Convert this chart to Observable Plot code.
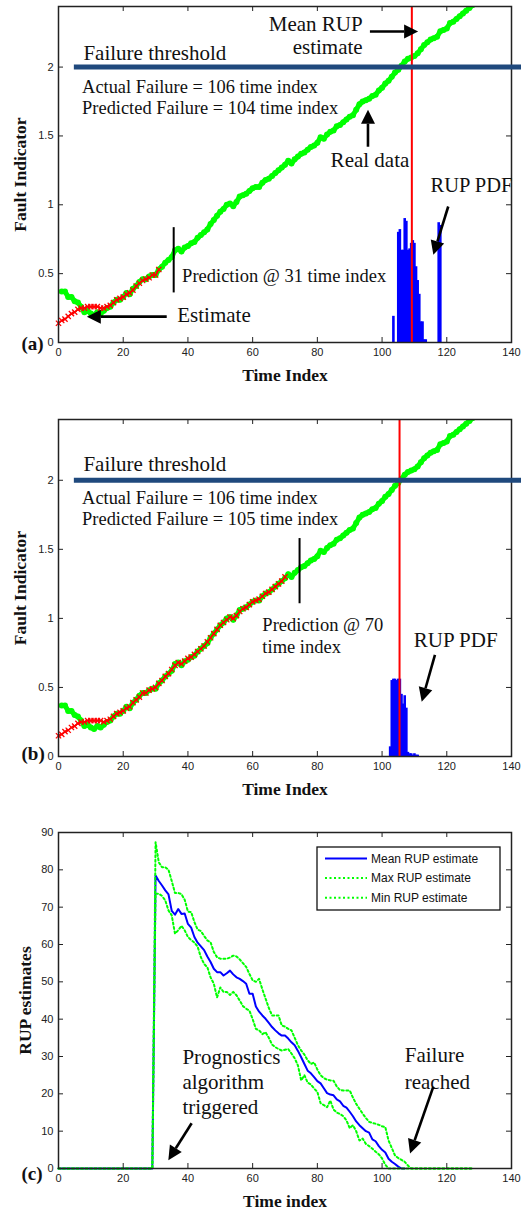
<!DOCTYPE html>
<html><head><meta charset="utf-8">
<script src="https://cdn.jsdelivr.net/npm/d3@7"></script>
<script src="https://cdn.jsdelivr.net/npm/@observablehq/plot@0.6"></script>
<style>
body{margin:0;background:#fff;}
#chart{width:521px;}
#chart svg{display:block;}
</style></head><body><div id="chart"></div>
<script>
const sans = "'Liberation Sans', Arial, Helvetica, sans-serif";
const serif = "'Liberation Serif', 'Times New Roman', Times, serif";

// ---------- data ----------
const xTicks = [0, 20, 40, 60, 80, 100, 120, 140];
const faultTicks = [0, 0.5, 1, 1.5, 2];
const rupTicks = [0, 10, 20, 30, 40, 50, 60, 70, 80, 90];

// real fault indicator data, time index 1..128
const realData = [0.37,0.37,0.33,0.33,0.30,0.29,0.26,0.22,0.23,0.21,
 0.20,0.22,0.21,0.23,0.25,0.26,0.29,0.31,0.31,0.33,
 0.36,0.35,0.39,0.41,0.44,0.46,0.46,0.48,0.49,0.49,
 0.53,0.55,0.58,0.60,0.62,0.67,0.68,0.66,0.69,0.70,
 0.72,0.73,0.76,0.78,0.80,0.82,0.86,0.89,0.92,0.95,
 0.97,1.00,1.01,0.99,1.02,1.06,1.07,1.08,1.10,1.12,
 1.13,1.13,1.16,1.18,1.19,1.21,1.23,1.25,1.27,1.29,
 1.32,1.30,1.33,1.35,1.37,1.38,1.40,1.42,1.43,1.45,
 1.49,1.48,1.51,1.53,1.54,1.57,1.58,1.60,1.62,1.64,
 1.65,1.69,1.73,1.75,1.76,1.77,1.79,1.80,1.83,1.85,
 1.88,1.90,1.93,1.96,1.98,2.01,2.04,2.06,2.07,2.08,
 2.10,2.13,2.16,2.18,2.20,2.21,2.22,2.26,2.27,2.28,
 2.32,2.33,2.35,2.37,2.39,2.41,2.43,2.45];

// estimate, time index 0..31 (panel a)
const estimateA = [0.14,0.16,0.17,0.19,0.21,0.22,0.24,0.25,0.25,0.26,0.26,0.26,0.26,0.25,0.25,0.26,
 0.27,0.29,0.31,0.32,0.33,0.35,0.36,0.38,0.41,0.43,0.45,0.46,0.47,0.49,0.49,0.53];

// estimate, time index 0..70 (panel b)
const estimateB = [0.15,0.16,0.18,0.19,0.21,0.22,0.24,0.25,0.25,0.26,0.26,0.26,0.26,0.26,0.25,0.26,
 0.27,0.29,0.31,0.32,0.33,0.35,0.36,0.39,0.41,0.43,
 0.46,0.46,0.48,0.49,0.50,0.53,0.55,0.58,0.60,0.63,
 0.66,0.68,0.67,0.69,0.71,0.72,0.74,0.76,0.78,0.80,
 0.83,0.86,0.89,0.92,0.95,0.97,0.99,1.01,1.00,1.02,
 1.05,1.07,1.08,1.10,1.12,1.13,1.14,1.16,1.18,1.19,
 1.21,1.23,1.25,1.27,1.30];

// RUP PDFs
const pdfXA = [103.5,105,105.5,106,106.5,107,107.5,108,108.5,109,109.5,110,110.5,111,111.5,112,112.5,113,113.5,117.5,118];
const pdfYA = [0.19,0.80,0.82,0.67,0.67,0.90,0.88,0.67,0.68,0.72,0.74,0.72,0.55,0.45,0.35,0.15,0.15,0.02,0.02,0.87,0.85];
const pdfXB = [102.5,103,103.5,104,104.5,105,105.5,106,106.5,107,107.5,108,108.5,109,109.5,110,110.5,111];
const pdfYB = [0.07,0.55,0.56,0.56,0.55,0.56,0.56,0.45,0.38,0.44,0.35,0.03,0.02,0.02,0.01,0.02,0.01,0.01];

const meanRupA = 109.2;
const meanRupB = 105.4;
const threshold = 2;

// RUP estimates, time index 0..
const rupMean = [0,0,0,0,0,0,0,0,0,0,0,0,0,0,0,0,0,0,0,0,0,0,0,0,0,0,0,0,0,0,
 78.5,77.0,75.8,74.5,73.4,69.0,68.0,69.5,68.2,68.3,
 65.5,64.5,62.0,60.5,59.5,58.5,56.8,55.3,53.5,52.6,
 52.6,51.7,52.3,53.0,52.0,51.2,50.8,50.2,49.5,46.8,
 46.8,43.4,42.0,41.0,40.1,39.0,37.9,37.0,36.2,35.6,
 35.6,34.8,33.8,33.0,31.5,29.8,28.0,26.2,25.5,24.5,
 23.4,22.8,21.5,20.2,19.8,19.6,18.5,18.0,16.8,16.3,
 15.2,14.0,12.6,11.6,10.8,10.0,9.6,7.8,7.3,6.0,
 5.0,4.3,2.6,1.8,1.2,0.5,0,0];
const rupMax = [0,0,0,0,0,0,0,0,0,0,0,0,0,0,0,0,0,0,0,0,0,0,0,0,0,0,0,0,0,0,
 87.4,82.0,80.7,80.7,80.0,77.0,73.8,73.8,73.5,72.0,
 68.8,68.7,66.0,64.0,63.6,62.3,61.1,60.6,58.0,56.6,
 56.2,56.2,56.2,56.5,57.0,56.8,56.0,55.0,54.0,52.1,
 50.4,50.0,50.8,48.0,45.5,43.0,41.0,41.0,41.0,38.3,
 38.0,37.4,37.0,35.0,33.0,31.6,30.5,29.0,28.0,28.4,
 26.5,25.0,24.2,23.8,23.6,23.5,22.0,21.0,20.9,20.9,
 20.9,19.0,17.3,16.0,14.7,13.5,12.5,12.2,12.0,11.7,
 11.3,11.1,7.5,5.5,3.5,2.8,2.3,1.8,0.8,
 0,0,0,0,0,0,0,0,0,0,0,0,0,0,0,0,0,0,0,0];
const rupMin = [0,0,0,0,0,0,0,0,0,0,0,0,0,0,0,0,0,0,0,0,0,0,0,0,0,0,0,0,0,0,
 73.6,73.6,73.0,71.8,69.1,67.8,62.9,63.8,65.0,63.8,
 62.0,61.2,60.5,59.4,56.6,54.8,53.9,51.2,49.5,45.8,
 48.5,47.3,47.3,46.5,47.3,46.4,45.0,43.5,42.8,42.3,
 40.0,37.4,37.0,36.0,36.5,35.0,33.2,32.5,32.0,31.6,
 31.8,32.0,30.8,29.5,27.6,23.6,25.0,23.0,22.5,21.4,
 20.5,17.5,17.0,16.4,18.2,15.8,15.0,14.6,14.0,12.9,
 10.8,11.6,10.0,7.5,8.0,6.6,6.0,5.3,4.5,3.8,
 2.7,1.0,
 0,0,0,0,0,0,0,0,0,0,0,0,0,0,0,0,0,0,0,0,0,0,0,0,0,0,0];

const legendLabels = ["Mean RUP estimate", "Max RUP estimate", "Min RUP estimate"];

// ---------- tables ----------
const realRows = realData.map((v, i) => ({t: i + 1, v}));
const estARows = estimateA.map((v, i) => ({t: i, v}));
const estBRows = estimateB.map((v, i) => ({t: i, v}));
const pdfARows = pdfXA.map((x, i) => ({x, y: pdfYA[i]}));
const pdfBRows = pdfXB.map((x, i) => ({x, y: pdfYB[i]}));
const meanRows = rupMean.map((v, i) => ({t: i, v}));
const maxRows = rupMax.map((v, i) => ({t: i, v}));
const minRows = rupMin.map((v, i) => ({t: i, v}));

// ---------- helpers ----------
const W = 521, ML = 58, MR = 10;
const plotW = W - ML - MR;

function boxAxes(yTicks, plotH) {
  return [
    Plot.ruleX(xTicks, {x: d => d, insetTop: plotH - 5, stroke: "#222"}),
    Plot.ruleX(xTicks, {x: d => d, insetBottom: plotH - 5, stroke: "#222"}),
    Plot.ruleY(yTicks, {y: d => d, insetRight: plotW - 5, stroke: "#222"}),
    Plot.ruleY(yTicks, {y: d => d, insetLeft: plotW - 5, stroke: "#222"}),
    Plot.axisX({ticks: xTicks, tickSize: 0, tickPadding: 6, fontSize: 11, fontFamily: sans, label: null,
      fill: "#222", tickFormat: d => String(d)}),
    Plot.axisY({ticks: yTicks, tickSize: 0, tickPadding: 5, fontSize: 11, fontFamily: sans, label: null,
      fill: "#222", tickFormat: d => String(d)}),
    Plot.frame({stroke: "#222", strokeWidth: 1.5})
  ];
}

function titles(xLabel, yLabel, panel, yDx, panelDy) {
  return [
    Plot.text([xLabel], {text: d => d, frameAnchor: "bottom", dy: 38, lineAnchor: "bottom",
      fontFamily: serif, fontWeight: "bold", fontSize: 17.5, fill: "#111"}),
    Plot.text([yLabel], {text: d => d, frameAnchor: "left", rotate: -90, dx: yDx, lineAnchor: "bottom",
      textAnchor: "middle", fontFamily: serif, fontWeight: "bold", fontSize: 17.5, fill: "#111"}),
    Plot.text([panel], {text: d => d, frameAnchor: "bottom-left", dx: -37, dy: panelDy, lineAnchor: "bottom",
      textAnchor: "start", fontFamily: serif, fontWeight: "bold", fontSize: 19, fill: "#111"})
  ];
}

function notes(list) {
  return list.map(a => Plot.text([a], {x: "x", y: "y", text: "text", fontSize: a.size,
    textAnchor: a.anchor || "start", lineAnchor: "bottom", fontFamily: serif, fill: "#111"}));
}

function arrows(list) {
  return (index, scales) => {
    const g = d3.create("svg:g");
    for (const a of list) {
      const x1 = scales.x(a.x1), y1 = scales.y(a.y1), x2 = scales.x(a.x2), y2 = scales.y(a.y2);
      const ang = Math.atan2(y2 - y1, x2 - x1);
      const L = 14, H = 7;
      const bx = x2 - L * Math.cos(ang), by = y2 - L * Math.sin(ang);
      g.append("line").attr("x1", x1).attr("y1", y1).attr("x2", bx).attr("y2", by)
        .attr("stroke", "black").attr("stroke-width", 2.6);
      g.append("path").attr("d",
        `M${x2},${y2}L${bx - H * Math.sin(ang)},${by + H * Math.cos(ang)}L${bx + H * Math.sin(ang)},${by - H * Math.cos(ang)}Z`)
        .attr("fill", "black");
    }
    return g.node();
  };
}

const chart = document.getElementById("chart");
const greenW = 5, greenR = 3;

// ---------- panel (a) ----------
const hA = 395, mtA = 6, mbA = 53;
chart.append(Plot.plot({
  width: W, height: hA, marginLeft: ML, marginRight: MR, marginTop: mtA, marginBottom: mbA,
  x: {domain: [0, 140]}, y: {domain: [0, 2.44]},
  style: {background: "white", overflow: "visible"},
  marks: [
    Plot.line(realRows, {x: "t", y: "v", stroke: "#00ff00", strokeWidth: greenW, clip: true}),
    Plot.dot(realRows, {x: "t", y: "v", fill: "#00ff00", r: greenR, clip: true}),
    Plot.line(estARows, {x: "t", y: "v", stroke: "#ff0000", strokeWidth: 1.5}),
    Plot.dot(estARows, {x: "t", y: "v", symbol: "times", r: 2.5, stroke: "#ff0000", strokeWidth: 1.3}),
    Plot.ruleX(pdfARows, {x: "x", y1: 0, y2: "y", stroke: "#0000ff", strokeWidth: 2.6}),
    Plot.ruleX([meanRupA], {x: d => d, stroke: "#ff0000", strokeWidth: 2}),
    Plot.ruleX([{x: 35.6, y1: 0.36, y2: 0.834}], {x: "x", y1: "y1", y2: "y2", stroke: "black", strokeWidth: 2}),
    ...boxAxes(faultTicks, hA - mtA - mbA),
    Plot.ruleY([threshold], {y: d => d, x1: 4.9, x2: 143.2, stroke: "#1f497d", strokeWidth: 5}),
    ...notes([
      {text: "Mean RUP", x: 94.0, y: 2.262, size: 21, anchor: "end"},
      {text: "estimate", x: 94.0, y: 2.092, size: 21, anchor: "end"},
      {text: "Failure threshold", x: 7.7, y: 2.051, size: 21},
      {text: "Actual Failure = 106 time index", x: 7.3, y: 1.809, size: 18.4},
      {text: "Predicted Failure = 104 time index", x: 7.3, y: 1.656, size: 18.4},
      {text: "Real data", x: 84.1, y: 1.273, size: 21},
      {text: "RUP PDF", x: 115.0, y: 1.093, size: 20.5},
      {text: "Prediction @ 31 time index", x: 38.2, y: 0.439, size: 18.5},
      {text: "Estimate", x: 36.7, y: 0.148, size: 21}
    ]),
    arrows([
      {x1: 96.4, y1: 2.255, x2: 111.3, y2: 2.255},
      {x1: 95.8, y1: 1.418, x2: 95.8, y2: 1.687},
      {x1: 120.6, y1: 0.984, x2: 116.0, y2: 0.633},
      {x1: 33.6, y1: 0.184, x2: 8.9, y2: 0.184}
    ]),
    ...titles("Time Index", "Fault Indicator", "(a)", -33, 7)
  ]
}));

// ---------- panel (b) ----------
const hB = 405, mtB = 24, mbB = 44;
chart.append(Plot.plot({
  width: W, height: hB, marginLeft: ML, marginRight: MR, marginTop: mtB, marginBottom: mbB,
  x: {domain: [0, 140]}, y: {domain: [0, 2.44]},
  style: {background: "white", overflow: "visible"},
  marks: [
    Plot.line(realRows, {x: "t", y: "v", stroke: "#00ff00", strokeWidth: greenW, clip: true}),
    Plot.dot(realRows, {x: "t", y: "v", fill: "#00ff00", r: greenR, clip: true}),
    Plot.line(estBRows, {x: "t", y: "v", stroke: "#ff0000", strokeWidth: 1.5}),
    Plot.dot(estBRows, {x: "t", y: "v", symbol: "times", r: 2.5, stroke: "#ff0000", strokeWidth: 1.3}),
    Plot.ruleX(pdfBRows, {x: "x", y1: 0, y2: "y", stroke: "#0000ff", strokeWidth: 2.6}),
    Plot.ruleX([meanRupB], {x: d => d, stroke: "#ff0000", strokeWidth: 2}),
    Plot.ruleX([{x: 74.5, y1: 1.106, y2: 1.578}], {x: "x", y1: "y1", y2: "y2", stroke: "black", strokeWidth: 2}),
    ...boxAxes(faultTicks, hB - mtB - mbB),
    Plot.ruleY([threshold], {y: d => d, x1: 4.9, x2: 143.2, stroke: "#1f497d", strokeWidth: 5}),
    ...notes([
      {text: "Failure threshold", x: 7.7, y: 2.065, size: 21},
      {text: "Actual Failure = 106 time index", x: 7.3, y: 1.828, size: 18.4},
      {text: "Predicted Failure = 105 time index", x: 7.3, y: 1.679, size: 18.4},
      {text: "Prediction @ 70", x: 63.0, y: 0.908, size: 18.5},
      {text: "time index", x: 63.0, y: 0.751, size: 18.5},
      {text: "RUP PDF", x: 109.8, y: 0.792, size: 21}
    ]),
    arrows([
      {x1: 116.5, y1: 0.732, x2: 112.4, y2: 0.393}
    ]),
    ...titles("Time Index", "Fault Indicator", "(b)", -33, 3)
  ]
}));

// ---------- panel (c) ----------
const hC = 411, mtC = 32, mbC = 43;
chart.append(Plot.plot({
  width: W, height: hC, marginLeft: ML, marginRight: MR, marginTop: mtC, marginBottom: mbC,
  x: {domain: [0, 140]}, y: {domain: [0, 90]},
  style: {background: "white", overflow: "visible"},
  marks: [
    Plot.line(meanRows, {x: "t", y: "v", stroke: "#0000ff", strokeWidth: 2}),
    Plot.line(maxRows, {x: "t", y: "v", stroke: "#00ff00", strokeWidth: 2, strokeDasharray: "2,2.5"}),
    Plot.line(minRows, {x: "t", y: "v", stroke: "#00ff00", strokeWidth: 2, strokeDasharray: "2,2.5"}),
    ...boxAxes(rupTicks, hC - mtC - mbC),
    (index, scales, values, dims) => {
      const g = d3.create("svg:g");
      const left = dims.width - dims.marginRight - 194, top = dims.marginTop + 15;
      g.append("rect").attr("x", left).attr("y", top).attr("width", 183).attr("height", 63)
        .attr("fill", "white").attr("stroke", "#111").attr("stroke-width", 1.3);
      legendLabels.forEach((lab, i) => {
        const yy = top + 11.5 + i * 19.6;
        g.append("line").attr("x1", left + 8).attr("x2", left + 50).attr("y1", yy).attr("y2", yy)
          .attr("stroke", i === 0 ? "#0000ff" : "#00ff00").attr("stroke-width", 2)
          .attr("stroke-dasharray", i === 0 ? null : "2,2.5");
        g.append("text").attr("x", left + 54).attr("y", yy).attr("dy", "0.35em")
          .attr("text-anchor", "start")
          .attr("font-family", sans).attr("font-size", 12).attr("fill", "#111").text(lab);
      });
      return g.node();
    },
    ...notes([
      {text: "Prognostics", x: 38.3, y: 28.0, size: 21},
      {text: "algorithm", x: 38.3, y: 21.3, size: 21},
      {text: "triggered", x: 38.3, y: 14.6, size: 21},
      {text: "Failure", x: 107.0, y: 28.4, size: 21},
      {text: "reached", x: 107.0, y: 21.4, size: 21}
    ]),
    arrows([
      {x1: 41.3, y1: 12.0, x2: 34.1, y2: 2.1},
      {x1: 116.0, y1: 21.8, x2: 108.8, y2: 3.9}
    ]),
    ...titles("Time index", "RUP estimates", "(c)", -27.5, 11)
  ]
}));
</script></body></html>
